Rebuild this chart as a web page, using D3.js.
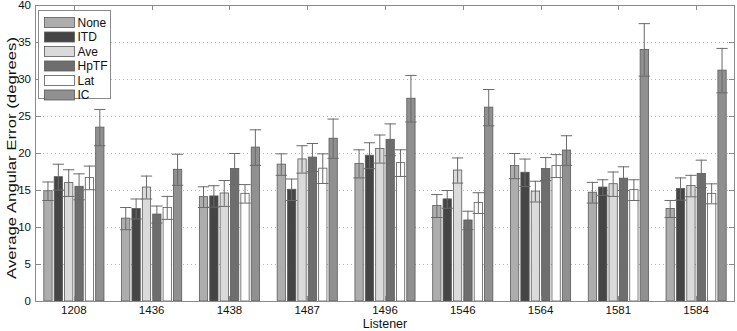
<!DOCTYPE html>
<html>
<head>
<meta charset="utf-8">
<script src="https://cdn.jsdelivr.net/npm/d3@7"></script>
<style>
    body { margin: 0; background: #fff; }
    svg { display: block; font-family: "Liberation Sans", Arial, Helvetica, sans-serif; }
</style>
</head>
<body>
<svg id="chart" width="737" height="331"></svg>
<script>
const listeners = ['1208', '1436', '1438', '1487', '1496', '1546', '1564', '1581', '1584'];
const conditions = ['None', 'ITD', 'Ave', 'HpTF', 'Lat', 'IC'];
const yTicks = [0, 5, 10, 15, 20, 25, 30, 35, 40];

// mean error per condition, one value per listener
const meanNone = [14.9, 11.2, 14.1, 18.5, 18.6, 12.9, 18.3, 14.7, 12.5];
const meanITD  = [16.8, 12.5, 14.2, 15.1, 19.7, 13.8, 17.4, 15.4, 15.2];
const meanAve  = [16.0, 15.4, 14.6, 19.2, 20.6, 17.7, 14.85, 15.85, 15.6];
const meanHpTF = [15.5, 11.75, 17.9, 19.45, 21.85, 10.95, 17.9, 16.6, 17.25];
const meanLat  = [16.7, 12.65, 14.55, 17.95, 18.7, 13.3, 18.3, 15.05, 14.55];
const meanIC   = [23.5, 17.8, 20.8, 22.0, 27.4, 26.2, 20.4, 34.0, 31.2];

// half-width of the error bars
const errNone = [1.25, 1.5, 1.4, 1.45, 1.9, 1.55, 1.7, 1.4, 1.15];
const errITD  = [1.75, 1.35, 1.45, 1.45, 1.75, 1.2, 1.85, 1.05, 1.5];
const errAve  = [1.8, 1.55, 1.75, 1.85, 1.9, 1.7, 1.4, 1.65, 1.45];
const errHpTF = [1.75, 1.15, 2.1, 1.9, 2.15, 1.25, 1.55, 1.6, 1.85];
const errLat  = [1.6, 1.55, 1.25, 2.0, 1.8, 1.4, 1.55, 1.4, 1.35];
const errIC   = [2.45, 2.1, 2.4, 2.65, 3.15, 2.45, 2.0, 3.55, 3.0];

const means = [meanNone, meanITD, meanAve, meanHpTF, meanLat, meanIC];
const errors = [errNone, errITD, errAve, errHpTF, errLat, errIC];
const fills = ['#adadad', '#454545', '#dadada', '#6e6e6e', '#ffffff', '#909090'];

const plotLeft = 35, plotRight = 735, plotTop = 5, plotBottom = 301;
const axisColor = '#8a8a8a';

const svg = d3.select('#chart');
const x = d3.scaleLinear().domain([0.5, listeners.length + 0.5]).range([plotLeft, plotRight]);
const y = d3.scaleLinear().domain([0, 40]).range([plotBottom, plotTop]);

// matlab style grouped bars: group width 0.8, bar width 0.8 of the slot
const slot = 0.8 / conditions.length;
const barWidth = (x(1 + slot) - x(1)) * 0.8;
const capWidth = barWidth + 3;
const barCenter = (g, c) => x(g + 1 + (c - (conditions.length - 1) / 2) * slot);

// dotted grid
svg.append('g').selectAll('line').data(yTicks.filter(t => t > 0 && t < 40)).join('line')
    .attr('x1', plotLeft).attr('x2', plotRight)
    .attr('y1', d => Math.round(y(d)) + 0.5).attr('y2', d => Math.round(y(d)) + 0.5)
    .attr('stroke', '#b8b8b8').attr('stroke-width', 1).attr('stroke-dasharray', '1,3');

const rows = conditions.map((name, c) => listeners.map((l, g) => ({
    c, g, value: means[c][g], err: errors[c][g]
})));

const series = svg.append('g').selectAll('.series').data(rows).join('g').classed('series', true);

series.selectAll('rect').data(d => d).join('rect')
    .attr('x', d => barCenter(d.g, d.c) - barWidth / 2)
    .attr('y', d => y(d.value))
    .attr('width', barWidth)
    .attr('height', d => y(0) - y(d.value))
    .attr('fill', d => fills[d.c])
    .attr('stroke', '#5a5a5a').attr('stroke-width', 0.8);

// error bars
const bars = series.selectAll('.err').data(d => d).join('g').classed('err', true)
    .attr('stroke', '#6a6a6a').attr('stroke-width', 1);
bars.append('line')
    .attr('x1', d => barCenter(d.g, d.c)).attr('x2', d => barCenter(d.g, d.c))
    .attr('y1', d => y(d.value - d.err)).attr('y2', d => y(d.value + d.err));
bars.selectAll('.cap').data(d => [d.value - d.err, d.value + d.err].map(v => ({ v, d }))).join('line')
    .classed('cap', true)
    .attr('x1', e => barCenter(e.d.g, e.d.c) - capWidth / 2)
    .attr('x2', e => barCenter(e.d.g, e.d.c) + capWidth / 2)
    .attr('y1', e => y(e.v) + 0.5).attr('y2', e => y(e.v) + 0.5);

// box and ticks
const frame = svg.append('g').attr('stroke', axisColor).attr('stroke-width', 1);
frame.append('rect').attr('x', plotLeft + 0.5).attr('y', plotTop + 0.5)
    .attr('width', plotRight - plotLeft - 1).attr('height', plotBottom - plotTop)
    .attr('fill', 'none');
const gx = listeners.map((l, i) => x(i + 1));
frame.selectAll('.xt').data(gx).join('line').classed('xt', true)
    .attr('x1', d => Math.round(d) + 0.5).attr('x2', d => Math.round(d) + 0.5)
    .attr('y1', plotTop).attr('y2', plotTop + 5);
frame.selectAll('.xb').data(gx).join('line').classed('xb', true)
    .attr('x1', d => Math.round(d) + 0.5).attr('x2', d => Math.round(d) + 0.5)
    .attr('y1', plotBottom).attr('y2', plotBottom - 5);
frame.selectAll('.yl').data(yTicks).join('line').classed('yl', true)
    .attr('x1', plotLeft).attr('x2', plotLeft + 6)
    .attr('y1', d => Math.round(y(d)) + 0.5).attr('y2', d => Math.round(y(d)) + 0.5);
frame.selectAll('.yr').data(yTicks).join('line').classed('yr', true)
    .attr('x1', plotRight).attr('x2', plotRight - 6)
    .attr('y1', d => Math.round(y(d)) + 0.5).attr('y2', d => Math.round(y(d)) + 0.5);

// tick labels
svg.append('g').selectAll('text').data(yTicks).join('text')
    .attr('x', plotLeft - 4).attr('y', d => y(d))
    .attr('text-anchor', 'end').attr('dominant-baseline', 'central')
    .attr('font-size', 11.5).attr('fill', '#111')
    .text(d => d);
svg.append('g').selectAll('text').data(listeners).join('text')
    .attr('x', (d, i) => x(i + 1)).attr('y', 313.5)
    .attr('text-anchor', 'middle')
    .attr('font-size', 11.5).attr('fill', '#111')
    .text(d => d);

svg.append('text')
    .attr('x', (plotLeft + plotRight) / 2).attr('y', 327.5)
    .attr('text-anchor', 'middle').attr('font-size', 12.5).attr('fill', '#111')
    .text('Listener');
svg.append('text')
    .attr('transform', 'translate(16, 158) rotate(-90)')
    .attr('text-anchor', 'middle').attr('font-size', 13.5).attr('fill', '#111')
    .attr('textLength', 242).attr('lengthAdjust', 'spacingAndGlyphs')
    .text('Average Angular Error (degrees)');

// legend
const legend = svg.append('g').attr('transform', 'translate(38, 10)');
legend.append('rect').attr('x', 0.5).attr('y', 0.5).attr('width', 72).attr('height', 88)
    .attr('fill', '#fff').attr('stroke', axisColor);
const items = legend.selectAll('.item').data(conditions).join('g').classed('item', true)
    .attr('transform', (d, i) => `translate(0, ${7 + i * 14.5})`);
items.append('rect').attr('x', 6.5).attr('y', 0.5).attr('width', 30).attr('height', 10)
    .attr('fill', (d, i) => fills[i]).attr('stroke', '#5a5a5a').attr('stroke-width', 0.8);
items.append('text').attr('x', 39.5).attr('y', 5.5)
    .attr('dominant-baseline', 'central').attr('font-size', 12).attr('fill', '#111')
    .text(d => d);
</script>
</body>
</html>
